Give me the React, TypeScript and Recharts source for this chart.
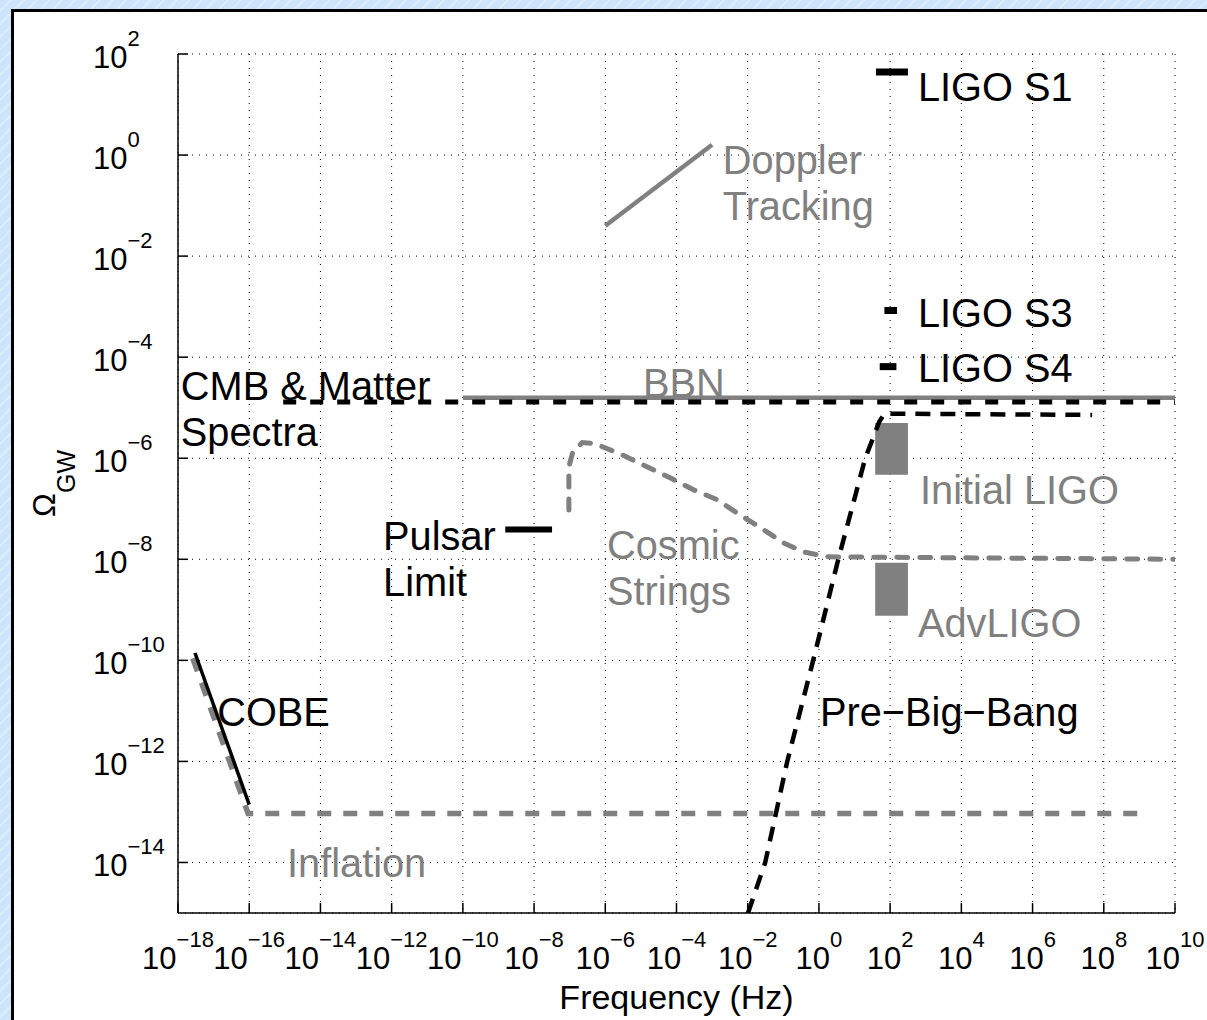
import React from 'react';
import {
  ComposedChart,
  Line,
  XAxis,
  YAxis,
  CartesianGrid,
  ReferenceArea,
  ReferenceDot
} from 'recharts';

const FONT = '"Liberation Sans", Arial, Helvetica, sans-serif';
const GRAY = '#808080';
const BLACK = '#000000';

// axes: frequency in Hz, energy density Omega_GW
const freqTicks = [1e-18, 1e-16, 1e-14, 1e-12, 1e-10, 1e-8, 1e-6, 1e-4, 1e-2, 1, 1e2, 1e4, 1e6, 1e8, 1e10];
const omegaTicks = [1e-14, 1e-12, 1e-10, 1e-8, 1e-6, 1e-4, 1e-2, 1, 1e2];
const freqDomain = [1e-18, 1e10];
const omegaDomain = [1e-15, 1e2];

type Pt = { f: number; omega: number };

const cobe: Pt[] = [
  { f: 3.0e-18, omega: 1.4e-10 },
  { f: 1.0e-16, omega: 1.4e-13 }
];

const inflation: Pt[] = [
  { f: 2.6e-18, omega: 1.1e-10 },
  { f: 9.3e-17, omega: 9.3e-14 },
  { f: 1e9, omega: 9.3e-14 }
];

const doppler: Pt[] = [
  { f: 1e-6, omega: 0.04 },
  { f: 1e-3, omega: 1.6 }
];

const pulsar: Pt[] = [
  { f: 1.55e-9, omega: 3.9e-8 },
  { f: 3.2e-8, omega: 3.9e-8 }
];

const bbn: Pt[] = [
  { f: 1e-10, omega: 1.58e-5 },
  { f: 1e10, omega: 1.58e-5 }
];

const cmb: Pt[] = [
  { f: 9e-16, omega: 1.3e-5 },
  { f: 1e10, omega: 1.3e-5 }
];

const ligoS1: Pt[] = [
  { f: 40, omega: 44 },
  { f: 316, omega: 44 }
];

const ligoS3: Pt[] = [
  { f: 69, omega: 8.4e-4 },
  { f: 156, omega: 8.4e-4 }
];

const ligoS4: Pt[] = [
  { f: 51, omega: 6.5e-5 },
  { f: 150, omega: 6.5e-5 }
];

const cosmicStrings: Pt[] = [
  { f: 9.5e-8, omega: 9.5e-8 },
  { f: 9.5e-8, omega: 6.8e-7 },
  { f: 1.23e-7, omega: 1.35e-6 },
  { f: 2.24e-7, omega: 2.04e-6 },
  { f: 5.1e-7, omega: 1.95e-6 },
  { f: 2.95e-6, omega: 1.17e-6 },
  { f: 1.48e-5, omega: 6.8e-7 },
  { f: 6.6e-5, omega: 4.1e-7 },
  { f: 2.9e-4, omega: 2.4e-7 },
  { f: 1.38e-3, omega: 1.51e-7 },
  { f: 5.0e-3, omega: 8.3e-8 },
  { f: 2.7e-2, omega: 3.9e-8 },
  { f: 9.8e-2, omega: 2.14e-8 },
  { f: 0.355, omega: 1.41e-8 },
  { f: 1.7, omega: 1.12e-8 },
  { f: 1e10, omega: 1e-8 }
];

const preBigBang: Pt[] = [
  { f: 1.02e-2, omega: 1e-15 },
  { f: 3.1e-2, omega: 1e-14 },
  { f: 0.129, omega: 1e-12 },
  { f: 0.69, omega: 1e-10 },
  { f: 3.5, omega: 1e-8 },
  { f: 20, omega: 1e-6 },
  { f: 49, omega: 5.2e-6 },
  { f: 71, omega: 7.9e-6 },
  { f: 120, omega: 7.6e-6 },
  { f: 4.7e7, omega: 7.2e-6 }
];

const initialLigoFreq = [38, 316];
const initialLigoOmega = [4.7e-7, 5.0e-6];
const advLigoFreq = [38, 316];
const advLigoOmega = [7.6e-10, 8.5e-9];

// text annotations, anchored at the left baseline of their first line
const annotations = [
  { lines: ['LIGO S1'], f: 603, omega: 11.7, color: BLACK },
  { lines: ['Doppler', 'Tracking'], f: 2.0e-3, omega: 0.43, color: GRAY },
  { lines: ['LIGO S3'], f: 603, omega: 4.0e-4, color: BLACK },
  { lines: ['LIGO S4'], f: 603, omega: 3.2e-5, color: BLACK },
  { lines: ['CMB & Matter', 'Spectra'], f: 1.2e-18, omega: 1.45e-5, color: BLACK },
  { lines: ['BBN'], f: 1.15e-5, omega: 1.66e-5, color: GRAY },
  { lines: ['Initial LIGO'], f: 692, omega: 1.26e-7, color: GRAY },
  { lines: ['AdvLIGO'], f: 603, omega: 2.95e-10, color: GRAY },
  { lines: ['Pulsar', 'Limit'], f: 5.75e-13, omega: 1.55e-8, color: BLACK },
  { lines: ['Cosmic', 'Strings'], f: 1.12e-6, omega: 1.02e-8, color: GRAY },
  { lines: ['COBE'], f: 1.26e-17, omega: 5.1e-12, color: BLACK },
  { lines: ['Pre\u2212Big\u2212Bang'], f: 1.07, omega: 5.1e-12, color: BLACK },
  { lines: ['Inflation'], f: 1.15e-15, omega: 5.2e-15, color: GRAY }
];

function expText(v: number) {
  const e = Math.round(Math.log10(v));
  return e < 0 ? `\u2212${-e}` : `${e}`;
}

function FreqTick(props: any) {
  const { x, y, payload } = props;
  return (
    <text x={x} y={y + 56} textAnchor="middle" fontFamily={FONT} fontSize={31} fill={BLACK}>
      <tspan>10</tspan>
      <tspan dy={-22} fontSize={22}>{expText(payload.value)}</tspan>
    </text>
  );
}

function OmegaTick(props: any) {
  const { x, y, payload } = props;
  return (
    <text x={x} y={y + 14} textAnchor="start" fontFamily={FONT} fontSize={31} fill={BLACK}>
      <tspan>10</tspan>
      <tspan dy={-22} fontSize={22}>{expText(payload.value)}</tspan>
    </text>
  );
}

function renderYLabel(props: any) {
  const vb = props.viewBox;
  const cx = vb.x + 55;
  const cy = vb.y + vb.height / 2;
  return (
    <text
      transform={`translate(${cx},${cy}) rotate(-90)`}
      textAnchor="middle"
      fontFamily={FONT}
      fill={BLACK}
    >
      <tspan fontSize={32}>Ω</tspan>
      <tspan fontSize={25} dy={20}>GW</tspan>
    </text>
  );
}

function renderXLabel(props: any) {
  const vb = props.viewBox;
  return (
    <text
      x={vb.x + vb.width / 2}
      y={vb.y + 96}
      textAnchor="middle"
      fontFamily={FONT}
      fontSize={34}
      fill={BLACK}
    >
      Frequency (Hz)
    </text>
  );
}

function annotationShape(lines: string[], color: string) {
  return (p: any) => (
    <text
      transform={`translate(${p.cx},${p.cy}) scale(0.97,1)`}
      fontFamily={FONT}
      fontSize={41}
      fill={color}
    >
      {lines.map((line, i) => (
        <tspan key={line} x={0} dy={i === 0 ? 0 : 46}>
          {line}
        </tspan>
      ))}
    </text>
  );
}

export default function App() {
  return (
    <div
      style={{
        position: 'fixed',
        left: 0,
        top: 0,
        width: 1207,
        height: 1020,
        overflow: 'hidden',
        background:
          'repeating-linear-gradient(135deg, #cde4fa 0px, #cde4fa 7px, #dbecfc 7px, #dbecfc 9px)'
      }}
    >
      <div
        style={{
          position: 'absolute',
          left: 11,
          top: 9,
          width: 1300,
          height: 1100,
          border: '3px solid #000',
          background: '#fff'
        }}
      />
      <div style={{ position: 'absolute', left: 0, top: 0 }}>
        <ComposedChart width={1207} height={1020} margin={{ top: 54, right: 32, bottom: 0, left: 0 }}>
          <CartesianGrid stroke={BLACK} strokeWidth={1} strokeDasharray="1 6" />
          <XAxis
            dataKey="f"
            type="number"
            scale="log"
            domain={freqDomain}
            ticks={freqTicks}
            allowDataOverflow
            height={107}
            stroke={BLACK}
            strokeWidth={1.5}
            tickSize={-10}
            tickMargin={10}
            tick={<FreqTick />}
            interval={0}
            label={{ content: renderXLabel }}
          />
          <XAxis
            xAxisId="top"
            orientation="top"
            dataKey="f"
            type="number"
            scale="log"
            domain={freqDomain}
            ticks={freqTicks}
            allowDataOverflow
            height={0}
            stroke={BLACK}
            strokeWidth={1.5}
            tickSize={-10}
            tick={false}
            interval={0}
          />
          <YAxis
            dataKey="omega"
            type="number"
            scale="log"
            domain={omegaDomain}
            ticks={omegaTicks}
            allowDataOverflow
            width={178}
            stroke={BLACK}
            strokeWidth={1.5}
            tickSize={-10}
            tickMargin={95}
            tick={<OmegaTick />}
            interval={0}
            label={{ content: renderYLabel }}
          />
          <YAxis
            yAxisId="right"
            orientation="right"
            dataKey="omega"
            type="number"
            scale="log"
            domain={omegaDomain}
            ticks={omegaTicks}
            allowDataOverflow
            width={0}
            stroke={BLACK}
            strokeWidth={1.5}
            tickSize={-10}
            tick={false}
            interval={0}
          />

          <ReferenceArea
            x1={initialLigoFreq[0]}
            x2={initialLigoFreq[1]}
            y1={initialLigoOmega[0]}
            y2={initialLigoOmega[1]}
            fill={GRAY}
            fillOpacity={1}
            stroke="none"
          />
          <ReferenceArea
            x1={advLigoFreq[0]}
            x2={advLigoFreq[1]}
            y1={advLigoOmega[0]}
            y2={advLigoOmega[1]}
            fill={GRAY}
            fillOpacity={1}
            stroke="none"
          />

          <Line data={bbn} dataKey="omega" type="linear" stroke={GRAY} strokeWidth={4.5} dot={false} activeDot={false} isAnimationActive={false} />
          <Line data={cmb} dataKey="omega" type="linear" stroke={BLACK} strokeWidth={5} strokeDasharray="13 14" dot={false} activeDot={false} isAnimationActive={false} />
          <Line data={inflation} dataKey="omega" type="linear" stroke={GRAY} strokeWidth={5.5} strokeDasharray="14 12" dot={false} activeDot={false} isAnimationActive={false} />
          <Line data={cobe} dataKey="omega" type="linear" stroke={BLACK} strokeWidth={3.5} dot={false} activeDot={false} isAnimationActive={false} />
          <Line data={doppler} dataKey="omega" type="linear" stroke={GRAY} strokeWidth={4.5} dot={false} activeDot={false} isAnimationActive={false} />
          <Line data={cosmicStrings} dataKey="omega" type="linear" stroke={GRAY} strokeWidth={5} strokeDasharray="11 12" strokeLinecap="round" dot={false} activeDot={false} isAnimationActive={false} />
          <Line data={preBigBang} dataKey="omega" type="linear" stroke={BLACK} strokeWidth={4.5} strokeDasharray="15 10" dot={false} activeDot={false} isAnimationActive={false} />
          <Line data={pulsar} dataKey="omega" type="linear" stroke={BLACK} strokeWidth={6} dot={false} activeDot={false} isAnimationActive={false} />
          <Line data={ligoS1} dataKey="omega" type="linear" stroke={BLACK} strokeWidth={7} dot={false} activeDot={false} isAnimationActive={false} />
          <Line data={ligoS3} dataKey="omega" type="linear" stroke={BLACK} strokeWidth={7} dot={false} activeDot={false} isAnimationActive={false} />
          <Line data={ligoS4} dataKey="omega" type="linear" stroke={BLACK} strokeWidth={7} dot={false} activeDot={false} isAnimationActive={false} />

          {annotations.map((a) => (
            <ReferenceDot
              key={a.lines[0]}
              x={a.f}
              y={a.omega}
              r={1}
              shape={annotationShape(a.lines, a.color)}
            />
          ))}
        </ComposedChart>
      </div>
    </div>
  );
}
